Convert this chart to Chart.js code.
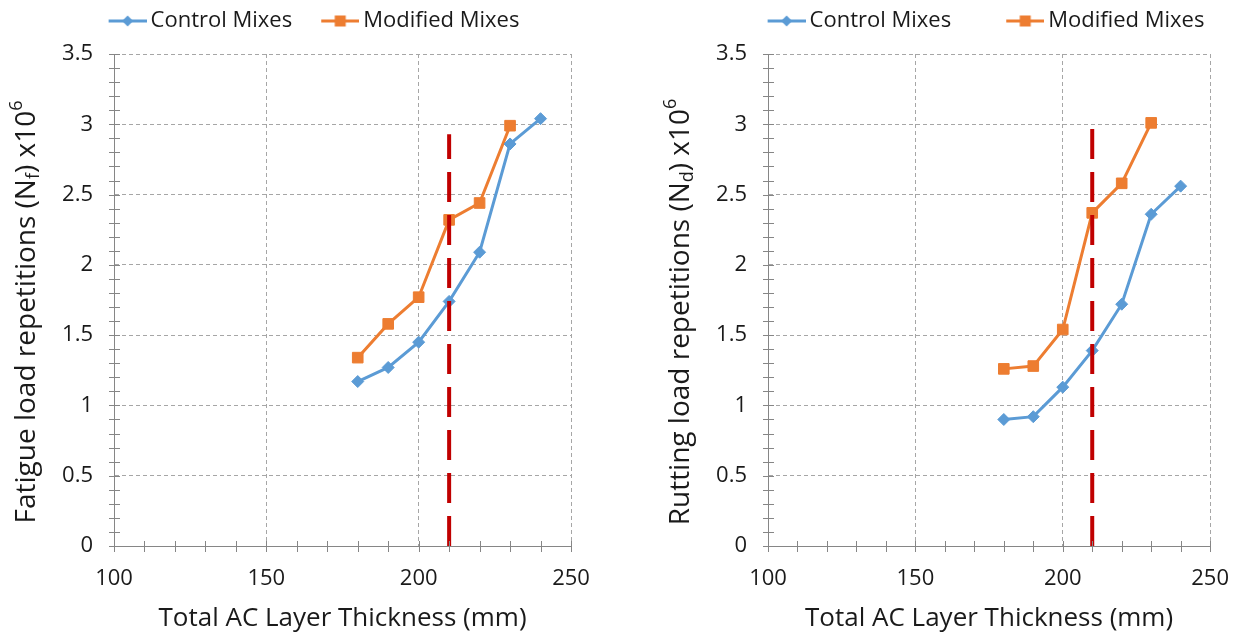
<!DOCTYPE html>
<html>
<head>
<meta charset="utf-8">
<script src="https://cdn.jsdelivr.net/npm/chart.js@4.4.1/dist/chart.umd.min.js"></script>
<style>
html, body { margin: 0; padding: 0; background: #fff; overflow: hidden; }
#wrap { position: relative; width: 1249px; height: 634px; }
.box { position: absolute; top: 0; height: 634px; }
</style>
</head>
<body>
<div id="wrap">
  <div class="box" style="left:0;width:620px"><canvas id="fatigue" width="620" height="634"></canvas></div>
  <div class="box" style="left:654px;width:595px"><canvas id="rutting" width="595" height="634"></canvas></div>
</div>
<script>
// thickness (mm) on the x axis
const thickness = [180, 190, 200, 210, 220, 230, 240];
// repetitions x10^6
const fatigueControl  = [1.17, 1.27, 1.45, 1.74, 2.09, 2.86, 3.04];
const fatigueModified = [1.34, 1.58, 1.77, 2.32, 2.44, 2.99];
const ruttingControl  = [0.90, 0.92, 1.13, 1.39, 1.72, 2.36, 2.56];
const ruttingModified = [1.26, 1.28, 1.54, 2.37, 2.58, 3.01];
// red dashed marker line
const designThickness = 210;
const fatigueLineTop = 2.93;
const ruttingLineTop = 3.0;

const seriesNames = ['Control Mixes', 'Modified Mixes'];
const xTitle = 'Total AC Layer Thickness (mm)';

const BLUE = '#5B9BD5', ORANGE = '#ED7D31', RED = '#C00000';
const AXIS = '#868686', GRID = '#A6A6A6', TEXT = '#1a1a1a';

Chart.defaults.font.family = "'Open Sans', sans-serif";
Chart.defaults.color = TEXT;

function toPoints(xs, ys) {
  return ys.map((y, i) => ({ x: xs[i], y: y }));
}

function isMajor(v, step) {
  const r = v / step;
  return Math.abs(r - Math.round(r)) < 1e-6;
}

// line + marker icon for the legend; "lead" is blank room on the left
function legendIcon(color, shape, lead) {
  const c = document.createElement('canvas');
  c.width = lead + 38; c.height = 14;
  const g = c.getContext('2d');
  g.strokeStyle = color; g.lineWidth = 3;
  g.beginPath(); g.moveTo(lead, 7); g.lineTo(lead + 38, 7); g.stroke();
  g.fillStyle = color;
  const cx = lead + 19;
  if (shape === 'diamond') {
    g.beginPath();
    g.moveTo(cx - 5.5, 7); g.lineTo(cx, 1.5); g.lineTo(cx + 5.5, 7); g.lineTo(cx, 12.5);
    g.closePath(); g.fill();
  } else {
    g.fillRect(cx - 5.5, 1.5, 11, 11);
  }
  return c;
}

// little tick marks that cross the axis lines, like excel
const crossTicks = {
  id: 'crossTicks',
  afterDraw(chart) {
    const ctx = chart.ctx, a = chart.chartArea;
    const sx = chart.scales.x, sy = chart.scales.y;
    ctx.save();
    ctx.strokeStyle = AXIS; ctx.lineWidth = 1;
    ctx.beginPath();
    sx.ticks.forEach(t => {
      const px = Math.round(sx.getPixelForValue(t.value)) + 0.5;
      ctx.moveTo(px, a.bottom - 5); ctx.lineTo(px, a.bottom + 6);
    });
    sy.ticks.forEach(t => {
      const py = Math.round(sy.getPixelForValue(t.value)) + 0.5;
      ctx.moveTo(a.left - 5, py); ctx.lineTo(a.left + 6, py);
    });
    ctx.stroke();
    ctx.restore();
  }
};

// y title with subscript and superscript
const yTitle = {
  id: 'yTitle',
  afterDraw(chart, args, opts) {
    const ctx = chart.ctx;
    const big = "28px 'Open Sans', sans-serif", small = "18px 'Open Sans', sans-serif";
    const parts = opts.parts;
    ctx.save();
    ctx.fillStyle = TEXT;
    ctx.textBaseline = 'middle';
    let total = 0;
    parts.forEach(p => { ctx.font = p.s ? small : big; p.w = ctx.measureText(p.t).width; total += p.w; });
    ctx.translate(opts.x, opts.y);
    ctx.rotate(-Math.PI / 2);
    let cx = -total / 2;
    parts.forEach(p => {
      ctx.font = p.s ? small : big;
      const dy = p.s === 'sub' ? 7 : (p.s === 'sup' ? -10 : 0);
      ctx.fillText(p.t, cx, dy);
      cx += p.w;
    });
    ctx.restore();
  }
};

function makeChart(id, control, modified, lineTop, sub, padLeft, width, lead) {
  const yWidth = 114 - padLeft;
  const icons = [legendIcon(BLUE, 'diamond', lead), legendIcon(ORANGE, 'square', lead)];
  return new Chart(document.getElementById(id), {
    type: 'scatter',
    data: {
      datasets: [
        {
          label: seriesNames[0],
          data: toPoints(thickness, control),
          showLine: true,
          borderColor: BLUE, backgroundColor: BLUE,
          borderWidth: 3,
          pointStyle: 'rectRot', pointRadius: 6, pointBorderWidth: 1,
          pointBorderColor: BLUE, pointBackgroundColor: BLUE,
          order: 1
        },
        {
          label: seriesNames[1],
          data: toPoints(thickness, modified),
          showLine: true,
          borderColor: ORANGE, backgroundColor: ORANGE,
          borderWidth: 3,
          pointStyle: 'rect', pointRadius: 7.5, pointBorderWidth: 1,
          pointBorderColor: ORANGE, pointBackgroundColor: ORANGE,
          order: 2
        },
        {
          label: 'limit',
          data: [{ x: designThickness, y: 0 }, { x: designThickness, y: lineTop }],
          showLine: true,
          borderColor: RED, borderWidth: 4,
          borderDash: [30, 13],
          pointRadius: 0,
          order: 0
        }
      ]
    },
    options: {
      responsive: false,
      animation: false,
      layout: { padding: { left: padLeft, right: width - 571, top: 0, bottom: 0 } },
      plugins: {
        tooltip: { enabled: false },
        legend: {
          position: 'top',
          labels: {
            usePointStyle: true,
            pointStyleWidth: 24 + lead,
            padding: 10,
            color: TEXT,
            font: { size: 22 },
            generateLabels(chart) {
              const items = Chart.defaults.plugins.legend.labels.generateLabels(chart);
              items.forEach(it => { it.pointStyle = icons[it.datasetIndex]; });
              return items.filter(it => it.datasetIndex < 2);
            },
            sort: (a, b) => a.datasetIndex - b.datasetIndex
          }
        },
        yTitle: { x: 27, y: 312, parts: [
          { t: sub[0] + ' load repetitions (N' },
          { t: sub[1], s: 'sub' },
          { t: ') x10' },
          { t: '6', s: 'sup' }
        ] }
      },
      scales: {
        x: {
          type: 'linear',
          min: 100, max: 250,
          afterFit: s => { s.height = 88; },
          ticks: {
            stepSize: 10, autoSkip: false, maxRotation: 0, padding: 20,
            font: { size: 22 }, color: TEXT,
            callback: v => isMajor(v, 50) ? String(v) : ''
          },
          grid: {
            drawTicks: false,
            color: c => (c.tick && isMajor(c.tick.value, 50) && c.tick.value > 100) ? GRID : 'rgba(0,0,0,0)'
          },
          border: { display: true, color: AXIS, width: 1, dash: [4, 3] },
          title: { display: true, text: xTitle, font: { size: 26 }, color: TEXT, padding: { top: 0, bottom: 0 } }
        },
        x2: {
          type: 'linear', position: 'top', display: true,
          afterFit: s => { s.height = 12; },
          grid: { display: false }, ticks: { display: false }, border: { display: false }
        },
        y: {
          type: 'linear',
          min: 0, max: 3.5,
          afterFit: s => { s.width = yWidth; },
          ticks: {
            stepSize: 0.1, autoSkip: false, padding: 21,
            font: { size: 22 }, color: TEXT,
            callback: v => isMajor(v, 0.5) ? String(Math.round(v * 10) / 10) : ''
          },
          grid: {
            drawTicks: false,
            color: c => (c.tick && isMajor(c.tick.value, 0.5) && c.tick.value > 0.01) ? GRID : 'rgba(0,0,0,0)'
          },
          border: { display: true, color: AXIS, width: 1, dash: [4, 3] }
        }
      }
    },
    plugins: [crossTicks, yTitle]
  });
}

makeChart('fatigue', fatigueControl, fatigueModified, fatigueLineTop, ['Fatigue', 'f'], 38, 620, 26);
makeChart('rutting', ruttingControl, ruttingModified, ruttingLineTop, ['Rutting', 'd'], 48, 595, 52);
</script>
</body>
</html>
